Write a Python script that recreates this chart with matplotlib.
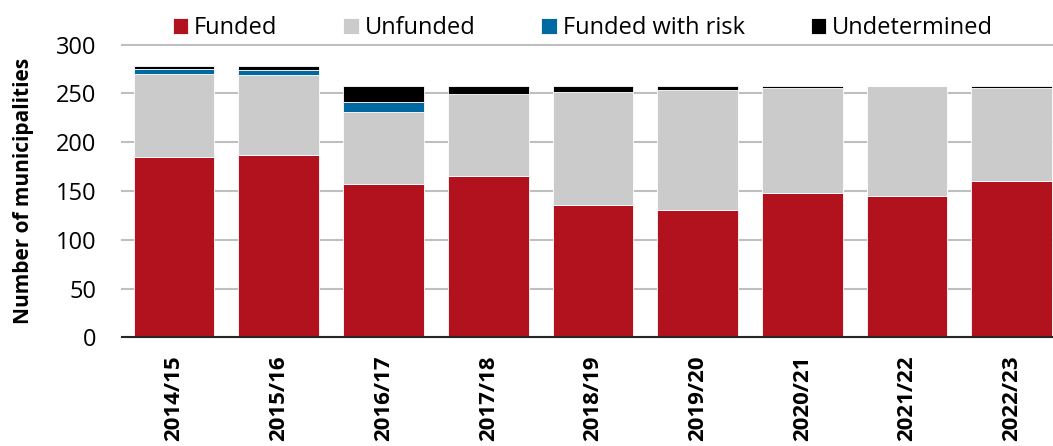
import matplotlib.pyplot as plt
import numpy as np

# Данные
years = ["2014/15", "2015/16", "2016/17", "2017/18", "2018/19",
         "2019/20", "2020/21", "2021/22", "2022/23"]
funded = [185, 187, 157, 165, 136, 130, 148, 145, 160]
unfunded = [85, 82, 74, 84, 115, 123, 107, 112, 95]
funded_risk = [5, 5, 10, 0, 0, 0, 0, 0, 0]
undetermined = [3, 4, 16, 8, 6, 4, 2, 0, 2]

series = [("Funded", funded, "#B2121D"),
          ("Unfunded", unfunded, "#CBCBCB"),
          ("Funded with risk", funded_risk, "#0069A2"),
          ("Undetermined", undetermined, "#000000")]

plt.rcParams['font.family'] = ['Open Sans', 'DejaVu Sans']

fig = plt.figure(figsize=(10.53, 4.46), dpi=100)
ax = fig.add_axes([0.1156, 0.2437, 0.895, 0.6565])

x = np.arange(len(years))
bottom = np.zeros(len(years))
for name, vals, col in series:
    vals = np.array(vals, dtype=float)
    ax.bar(x, vals, 0.77, bottom=bottom, color=col, label=name,
           edgecolor="white", linewidth=0.6, zorder=3)
    bottom += vals

ax.set_xlim(-0.5, 8.5)
ax.set_ylim(0, 300)
ax.set_yticks(range(0, 301, 50))
ax.grid(axis="y", color="#BFBFBF", linewidth=1.5, zorder=0)
for g in ax.get_ygridlines():
    g.set_clip_on(False)
ax.set_axisbelow(True)

for s in ["top", "right", "left"]:
    ax.spines[s].set_visible(False)
ax.spines["bottom"].set_color("#262626")
ax.spines["bottom"].set_linewidth(1.5)
ax.spines["bottom"].set_zorder(4)

ax.set_xticks(x)
ax.set_xticklabels(years, rotation=90, fontweight="bold", fontsize=16, va="top")
ax.tick_params(axis="x", length=0, pad=13)
ax.tick_params(axis="y", length=0, pad=18, labelsize=17)

ax.set_ylabel("Number of municipalities", fontweight="bold", fontsize=15)
ax.yaxis.set_label_coords(-0.093, 0.5)

fig.legend(loc="center", bbox_to_anchor=(0.5535, 0.937), ncol=4, frameon=False,
           fontsize=17, handlelength=0.65, handleheight=0.65,
           handletextpad=0.25, columnspacing=2.8)

plt.savefig("out.png", dpi=100)
